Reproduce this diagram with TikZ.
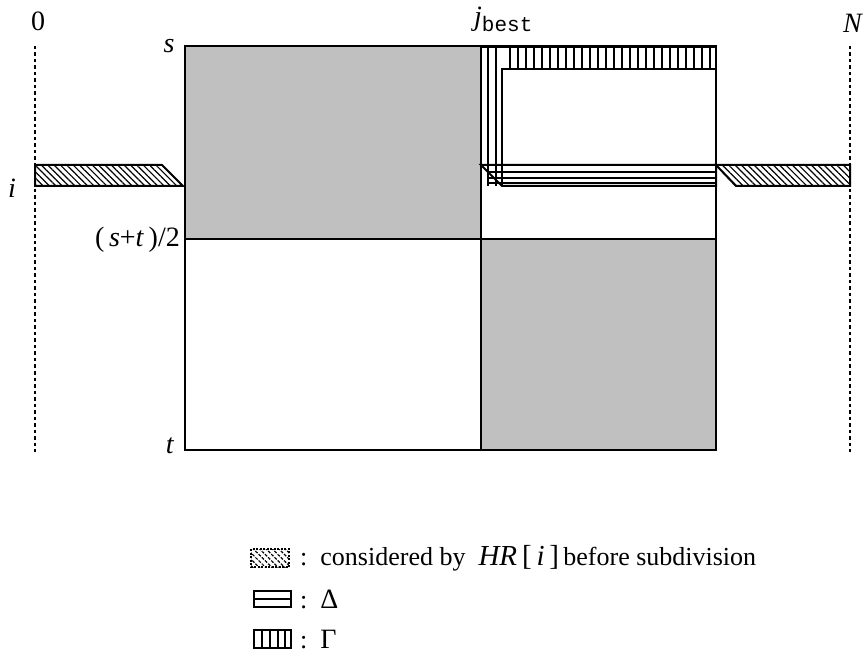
\documentclass[tikz,border=0pt]{standalone}
\usepackage{fontspec}
\setmainfont{Liberation Serif}
\setmonofont{Liberation Mono}
\usetikzlibrary{patterns.meta}
\definecolor{boxgray}{HTML}{C0C0C0}
\begin{document}
\begin{tikzpicture}[x=1pt,y=-1pt,
  edge/.style={line width=2pt},
  guide/.style={line width=1.8pt,dash pattern=on 3.5pt off 3pt},
  hatch/.style={pattern={Lines[angle=-45,distance=4.5pt,line width=1.2pt]}},
  thin/.style={line width=1.2pt},
  lbl/.style={inner sep=0pt,font=\fontsize{28}{30}\selectfont},
  lgd/.style={inner sep=0pt,anchor=west,font=\fontsize{26}{28}\selectfont}]
\useasboundingbox (0,0) rectangle (863,671);

% key positions
\coordinate (tl) at (185,46);
\coordinate (br) at (716,450);

% limits 0 and N
\draw[guide] (35,46) -- (35,452);
\draw[guide] (850,46) -- (850,452);
\node[lbl] (zero) at (38,21) {0};
\node[lbl] (nn) at (853,23) {\textit{N}};

% quadrants
\fill[boxgray] (185,46) rectangle (481,239);
\fill[boxgray] (481,239) rectangle (716,450);
\draw[edge] (tl) rectangle (br);
\draw[edge] (185,239) -- (716,239);
\draw[edge] (481,46) -- (481,450);

% Gamma: vertical hatching along top and left
\fill[white] (481,47) -- (716,47) -- (716,69) -- (502,69) -- (502,186) -- (481,186) -- cycle;
\foreach \x in {488,496} \draw[thin] (\x,47) -- (\x,186);
\foreach \x in {510,518,...,710} \draw[thin] (\x,47) -- (\x,69);
\draw[edge] (481,47) -- (716,47) -- (716,69) -- (502,69) -- (502,186);

% Delta: horizontal band
\fill[white] (481,165) -- (716,165) -- (716,186) -- (502,186) -- cycle;
\foreach \x in {488,496} \draw[thin] (\x,165) -- (\x,186);
\foreach \y in {172,178,183} \draw[thin] (488,\y) -- (716,\y);
\draw[edge] (481,165) -- (716,165) -- (716,186) -- (502,186) -- cycle;
\draw[edge] (502,69) -- (502,186);
\draw[edge] (481,46) -- (481,239);

% row i before subdivision
\draw[edge,hatch] (35,165) -- (162,165) -- (183,186) -- (35,186) -- cycle;
\draw[edge,hatch] (716,165) -- (850,165) -- (850,186) -- (736,186) -- cycle;

% axis labels
\node[lbl] (ss) at (169,46) {\textit{s}};
\node[lbl,anchor=east] (mid) at (180,240) {(\,\textit{s}+\textit{t}\,)/2};
\node[lbl] (tt) at (170,446) {\textit{t}};
\node[lbl] (ii) at (12,188) {\textit{i}};
\node[lbl,anchor=base west] (jb) at (474,26) {\textit{j}\raisebox{-6pt}{\fontsize{21}{21}\selectfont\ttfamily best}};

% legend
\draw[thin,dash pattern=on 2pt off 1.5pt,hatch] (251,549) rectangle (289,567);
\node[lgd] (l1) at (300,558) {:\ \ considered by\ \ {\fontsize{29}{30}\selectfont\textit{HR}\,[\,\textit{i}\,]}\,before subdivision};
\draw[edge] (254,591) rectangle (291,607);
\draw[thin] (254,599) -- (291,599);
\node[lgd] (l2) at (300,599) {:\ \ \fontsize{28}{30}\selectfont Δ};
\draw[edge] (254,630) rectangle (291,648);
\foreach \x in {262,270,278,285} \draw[thin] (\x,630) -- (\x,648);
\node[lgd] (l3) at (300,640) {:\ \ \fontsize{28}{30}\selectfont Γ};
\end{tikzpicture}
\end{document}
